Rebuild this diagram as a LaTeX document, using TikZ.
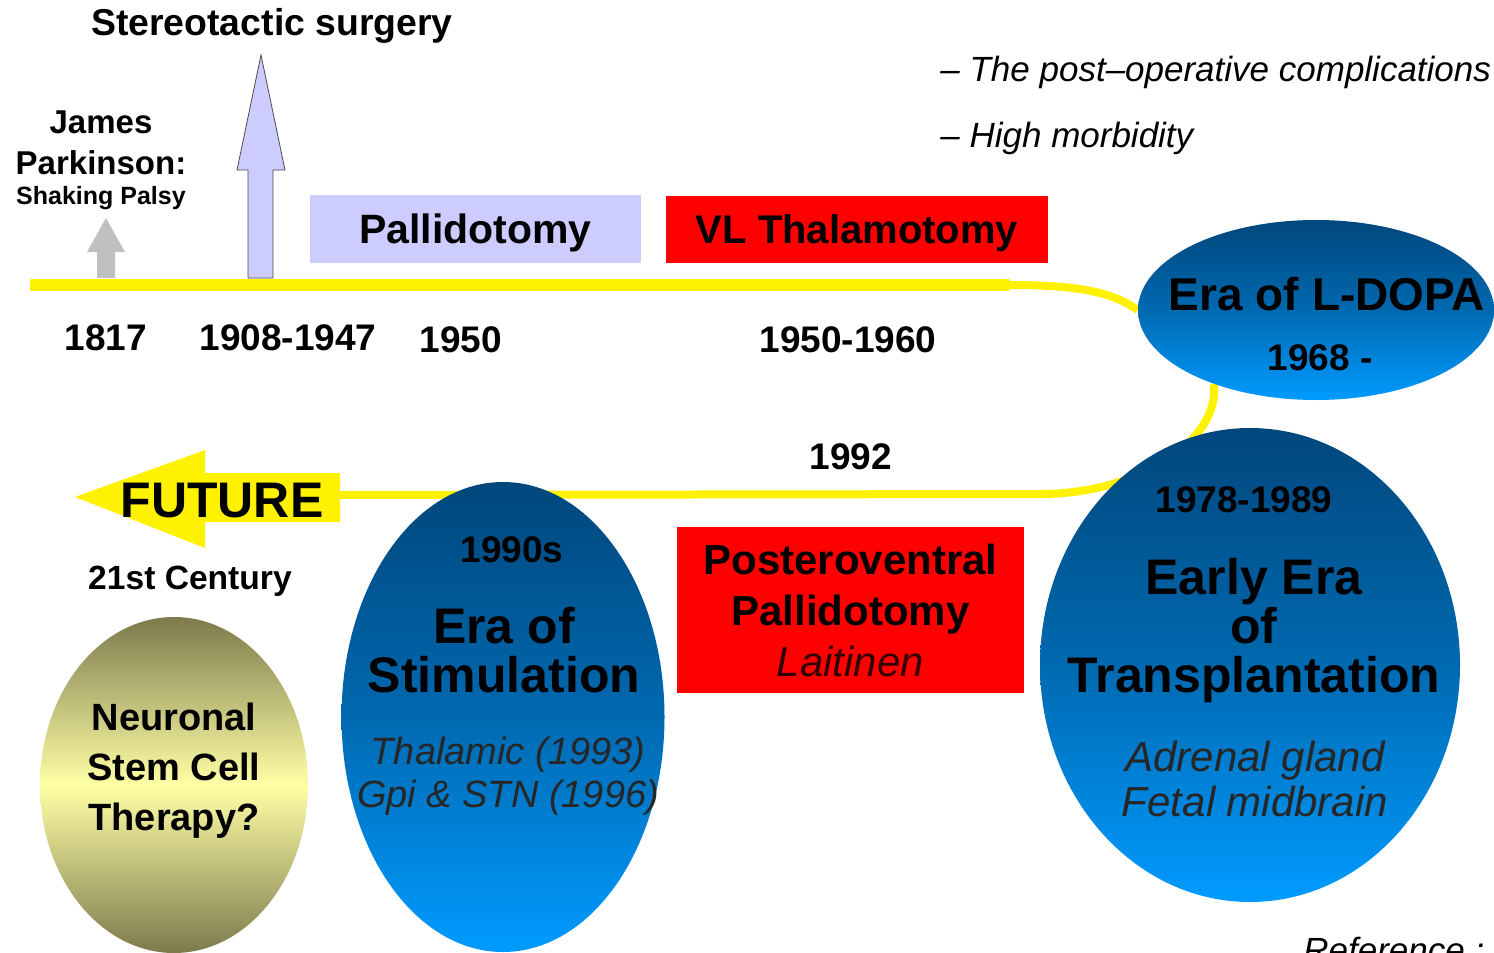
\documentclass[tikz,border=0pt]{standalone}
\usepackage{fontspec}
\setmainfont{Liberation Sans}
\usepackage{xcolor}
\usepackage{tikz}
\usetikzlibrary{shapes.geometric,backgrounds}
\definecolor{lavender}{HTML}{CCCCFF}
\definecolor{arrowgray}{HTML}{C0C0C0}
\definecolor{darkblue}{HTML}{00477C}
\definecolor{midblue}{HTML}{0069B0}
\definecolor{lightblue}{HTML}{009BFF}
\definecolor{olivedark}{HTML}{7D7A4C}
\definecolor{paleyellow}{HTML}{FFFFA6}

\begin{document}
\begin{tikzpicture}[x=0.5pt, y=-0.5pt,
  every node/.style={inner sep=0pt, align=center},
  years/.style={font=\bfseries\fontsize{18.5}{22}\selectfont},
  hand/.style={font=\itshape\fontsize{17.5}{20}\selectfont, anchor=west},
  era/.style={ellipse, top color=darkblue, bottom color=lightblue, middle color=midblue},
  timeline/.style={yellow, line width=#1}]
\clip (0,0) rectangle (1494,953);

\node[font=\bfseries\fontsize{18.7}{22}\selectfont] (stereo) at (272,26) {Stereotactic surgery};
\node[font=\bfseries\fontsize{16.5}{20.5}\selectfont] (parkinson) at (101,143) {James\\Parkinson:};
\node[font=\bfseries\fontsize{12.5}{15}\selectfont] (palsy) at (101,198) {Shaking Palsy};

\fill[arrowgray] (97,278) -- (97,252) -- (87,252) -- (106,218) -- (125,252) -- (115,252) -- (115,278) -- cycle;
\filldraw[fill=lavender, draw=gray!60!black, line width=0.4pt] (248,278) -- (248,170) -- (237,170) -- (261,55) -- (285,170) -- (273,170) -- (273,278) -- cycle;

\node[fill=lavender, minimum width=165.5pt, minimum height=34pt, text depth=0pt, font=\bfseries\fontsize{20.5}{24}\selectfont] (pallido) at (475.5,229) {Pallidotomy};
\node[fill=red, minimum width=191pt, minimum height=33.5pt, text depth=0pt, font=\bfseries\fontsize{20}{24}\selectfont] (vlthal) at (857,229.5) {VL Thalamotomy};

\node[hand] (comp) at (940,72) {– The post–operative complications};
\node[hand] (morb) at (940,138) {– High morbidity};

\node[years] (y1817) at (106,338) {1817};
\node[years] (y1908) at (288,338) {1908-1947};
\node[years] (y1950) at (461,340) {1950};
\node[years] (y1960) at (848,340) {1950-1960};
\node[years] (y1992) at (851,457) {1992};

\node[era, minimum width=178pt, minimum height=90pt] (ldopa) at (1316,310) {};
\node[font=\bfseries\fontsize{23}{26}\selectfont] (ldopatxt) at (1327,294) {Era of L-DOPA};
\node[years] (y1968) at (1320,358) {1968 -};

\node[era, minimum width=210pt, minimum height=237pt] (transp) at (1250,665) {};
\node[years] (y1978) at (1244,500) {1978-1989};
\node[font=\bfseries\fontsize{25}{24.5}\selectfont] (transptxt) at (1254,631) {Early Era\\of\\Transplantation};
\node[font=\itshape\fontsize{21}{22.5}\selectfont, text=black!85] (graft) at (1255,779) {Adrenal gland\\Fetal midbrain};

\node[fill=red, minimum width=173.5pt, minimum height=83pt, font=\bfseries\fontsize{21}{25.5}\selectfont] (postero) at (850.5,610) {Posteroventral\\Pallidotomy\\{\mdseries\itshape\color{black!80!red}Laitinen}};

\node[era, minimum width=161.5pt, minimum height=235pt] (stim) at (503,717) {};
\node[years] (y1990) at (512,550) {1990s};
\node[font=\bfseries\fontsize{25}{24.5}\selectfont] (stimtxt) at (504,650) {Era of\\Stimulation};
\node[font=\itshape\fontsize{19}{21.5}\selectfont, text=black!85] (targets) at (508,776) {Thalamic (1993)\\Gpi \& STN (1996)};

\fill[yellow] (340,473) -- (205,473) -- (205,450) -- (75,497) -- (205,548) -- (205,522) -- (340,522) -- cycle;
\node[font=\bfseries\fontsize{25}{28}\selectfont] (future) at (222,501) {FUTURE};
\node[font=\bfseries\fontsize{16.8}{20}\selectfont] (century) at (190,581) {21st Century};

\node[ellipse, minimum width=134pt, minimum height=168pt, top color=olivedark, bottom color=olivedark, middle color=paleyellow] (stem) at (174,785) {};
\node[font=\bfseries\fontsize{19}{25}\selectfont] (stemtxt) at (174,771) {Neuronal\\Stem Cell\\Therapy?};

\node[hand, anchor=base west] (ref) at (1303,962) {Reference :};

\coordinate (tlstart) at (30,285);
\coordinate (tlbend) at (1010,285);
\coordinate (tlturn) at (1040,494);
\coordinate (futtail) at (338,495);

\begin{scope}[on background layer]
\fill[white] (0,0) rectangle (1494,953);
\draw[timeline=6pt] (tlstart) -- (tlbend);
\draw[timeline=4pt] (tlbend) .. controls (1085,285) and (1115,294) .. (ldopa.west);
\draw[timeline=4pt] (ldopa.216) .. controls (1220,440) and (1140,494) .. (tlturn) -- (futtail);
\end{scope}
\end{tikzpicture}
\end{document}
